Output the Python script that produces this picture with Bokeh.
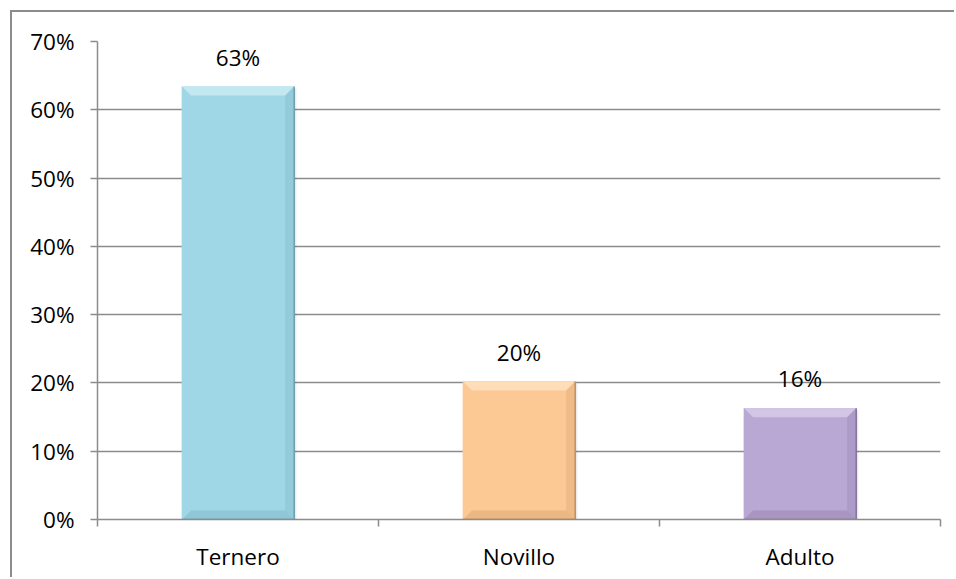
from bokeh.plotting import figure
from bokeh.models import FixedTicker, NumeralTickFormatter, ColumnDataSource, Range1d
from bokeh.core.properties import value
from bokeh.embed import file_html
from bokeh.resources import INLINE

# Share of animals per age category
categories = ["Ternero", "Novillo", "Adulto"]
shares = [0.634, 0.202, 0.163]
y_ticks = [0.0, 0.1, 0.2, 0.3, 0.4, 0.5, 0.6, 0.7]

# fill, light bevel, dark bevel for each bar
base_colors = ["#a0d7e7", "#fcc894", "#b9a8d3"]
light_colors = ["#c3e8f2", "#feddb8", "#d2c5e6"]
dark_colors = ["#86bccc", "#dfab78", "#9c8bb5"]
shadow_colors = ["#6c9fae", "#c08f60", "#82729b"]

FONT = "Open Sans"
FONT_SIZE = "22.5px"
GRAY = "#8c8c8c"

p = figure(
    width=944, height=567,
    margin=(10, 0, 0, 10),
    styles={"border-top": "2px solid #8c8c8c", "border-left": "2px solid #8c8c8c"},
    output_backend="svg", toolbar_location=None,
    x_range=Range1d(0, len(categories)), y_range=Range1d(0, 0.7),
    min_border_left=85, min_border_right=16, min_border_top=29, min_border_bottom=60,
)
p.outline_line_color = None
p.background_fill_color = "white"
p.border_fill_color = "white"

# bars with a bevelled edge
bar_w = 0.4
bx = 0.032   # bevel depth along x
by = 0.0132  # bevel depth along y
centers = [i + 0.5 for i in range(len(categories))]

# soft drop shadow
p.quad(left=[c - bar_w / 2 + 0.006 for c in centers],
       right=[c + bar_w / 2 + 0.008 for c in centers],
       bottom=[-0.004] * 3, top=[v - 0.003 for v in shares],
       fill_color="#000000", fill_alpha=0.08, line_color=None)

src = ColumnDataSource(dict(
    left=[c - bar_w / 2 for c in centers],
    right=[c + bar_w / 2 for c in centers],
    top=shares, bottom=[0] * 3, color=base_colors,
))
p.quad(left="left", right="right", top="top", bottom="bottom",
       fill_color="color", line_color=None, source=src)

top_xs, top_ys, bot_xs, bot_ys = [], [], [], []
lft_xs, lft_ys, rgt_xs, rgt_ys = [], [], [], []
for c, v in zip(centers, shares):
    l, r = c - bar_w / 2, c + bar_w / 2
    top_xs.append([l, r, r - bx, l + bx]); top_ys.append([v, v, v - by, v - by])
    bot_xs.append([l, r, r - bx, l + bx]); bot_ys.append([0, 0, by, by])
    lft_xs.append([l, l + bx, l + bx, l]); lft_ys.append([0, by, v - by, v])
    rgt_xs.append([r, r - bx, r - bx, r]); rgt_ys.append([0, by, v - by, v])

p.patches(top_xs, top_ys, fill_color=light_colors, line_color=None)
p.patches(bot_xs, bot_ys, fill_color=dark_colors, fill_alpha=0.6, line_color=None)
p.patches(lft_xs, lft_ys, fill_color=base_colors, line_color=None)
p.patches(rgt_xs, rgt_ys, fill_color=dark_colors, fill_alpha=0.45, line_color=None)
p.patches([[x[0], x[3]] for x in rgt_xs], [[y[0], y[3]] for y in rgt_ys],
          fill_color=None, line_color=shadow_colors, line_width=1.5)
p.patches([[x[0], x[1]] for x in bot_xs], [[y[0], y[1]] for y in bot_ys],
          fill_color=None, line_color=shadow_colors, line_width=1.5)

# value labels above each bar
p.text(x=centers, y=shares, text=[f"{round(v * 100)}%" for v in shares],
       text_font=value(FONT), text_font_size=FONT_SIZE, text_color="#000000",
       text_align="center", text_baseline="bottom", y_offset=-14)

# y axis
p.yaxis.ticker = FixedTicker(ticks=y_ticks)
p.yaxis.formatter = NumeralTickFormatter(format="0%")
p.yaxis.axis_line_color = GRAY
p.yaxis.axis_line_width = 1.5
p.yaxis.major_tick_line_color = GRAY
p.yaxis.major_tick_line_width = 1.5
p.yaxis.major_tick_out = 7
p.yaxis.major_tick_in = 0
p.yaxis.minor_tick_line_color = None
p.yaxis.major_label_standoff = 16
p.yaxis.major_label_text_font = FONT
p.yaxis.major_label_text_font_size = FONT_SIZE
p.yaxis.major_label_text_color = "#000000"

# x axis: labels at bar centers, tick marks at category boundaries
p.xaxis.ticker = FixedTicker(ticks=centers, minor_ticks=list(range(len(categories) + 1)))
p.xaxis.major_label_overrides = {c: name for c, name in zip(centers, categories)}
p.xaxis.axis_line_color = GRAY
p.xaxis.axis_line_width = 1.5
p.xaxis.major_tick_line_color = None
p.xaxis.minor_tick_line_color = GRAY
p.xaxis.minor_tick_line_width = 1.5
p.xaxis.minor_tick_out = 7
p.xaxis.minor_tick_in = 0
p.xaxis.major_label_standoff = 14
p.xaxis.major_label_text_font = FONT
p.xaxis.major_label_text_font_size = FONT_SIZE
p.xaxis.major_label_text_color = "#000000"

p.xgrid.grid_line_color = None
p.ygrid.ticker = FixedTicker(ticks=y_ticks)
p.ygrid.grid_line_color = GRAY
p.ygrid.grid_line_width = 1.5

open("out.html", "w").write(file_html(p, INLINE))
